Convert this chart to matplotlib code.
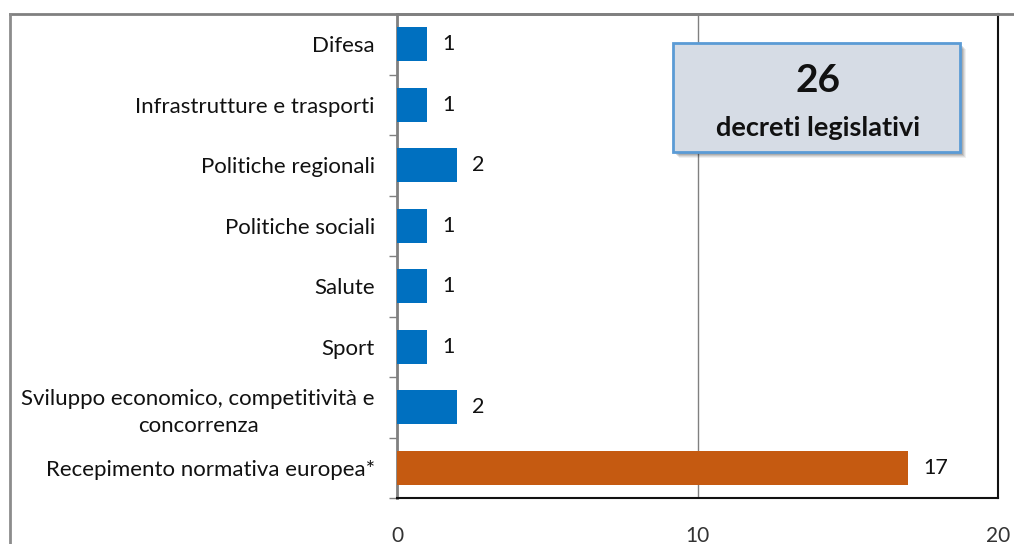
import numpy as np
import matplotlib
matplotlib.use("Agg")
import matplotlib.pyplot as plt
from matplotlib.patches import Rectangle
from matplotlib.lines import Line2D

plt.rcParams.update({"font.family": ["Lato", "DejaVu Sans"]})

categories = ["Difesa", "Infrastrutture e trasporti", "Politiche regionali",
              "Politiche sociali", "Salute", "Sport",
              "Sviluppo economico, competitività e\nconcorrenza",
              "Recepimento normativa europea*"]
values = [1, 1, 2, 1, 1, 1, 2, 17]
total_label = "26"
total_caption = "decreti legislativi"
xticks = [0, 10, 20]

W, H = 1014, 544
fig = plt.figure(figsize=(W / 100, H / 100), dpi=100)
ax = fig.add_axes([397 / W, 1 - 498 / H, (998 - 397) / W, (498 - 14) / H])

y = np.arange(len(categories))
colors = ["#0070C0"] * (len(categories) - 1) + ["#C55A11"]
bars = ax.barh(y, values, height=0.57, color=colors, zorder=3)
for b, v in zip(bars, values):
    ax.annotate(str(v), (b.get_width(), b.get_y() + b.get_height() / 2),
                xytext=(11, 0), textcoords="offset points", ha="left", va="center",
                fontsize=15.5, color="#111111")

ax.set_ylim(len(categories) - 0.5, -0.5)
ax.set_xlim(0, 20)
ax.set_yticks(y)
ax.set_yticklabels(categories, fontsize=16, color="#111111")
for t in ax.get_yticklabels():
    t.set_multialignment("center")
    t.set_linespacing(1.45)
ax.set_yticks(np.arange(-0.5, len(categories)), minor=True)
ax.tick_params(axis="y", which="major", length=0, pad=16)
ax.tick_params(axis="y", which="minor", length=6, width=1, color="#808080")
ax.set_xticks(xticks)
ax.tick_params(axis="x", length=0, pad=20, labelsize=15, labelcolor="#333333")
ax.xaxis.grid(True, color="#808080", lw=1, zorder=0)
ax.set_axisbelow(True)

ax.spines["left"].set_color("#808080"); ax.spines["left"].set_linewidth(2)
ax.spines["top"].set_color("#808080"); ax.spines["top"].set_linewidth(2)
for s in ("bottom", "right"):
    ax.spines[s].set_color("#111111"); ax.spines[s].set_linewidth(1.5)

# outer frame of the chart area
fig.add_artist(Line2D([10 / W, 1], [1 - 14 / H] * 2, color="#808080", lw=2))
fig.add_artist(Line2D([10 / W] * 2, [0, 1 - 14 / H], color="#8C8C8C", lw=2))

# summary box with soft shadow
bx, by, bw, bh = 673 / W, 1 - 152 / H, 287 / W, 109 / H
for i, a in enumerate([0.06, 0.08, 0.10, 0.12]):
    off = (6 - i) / W
    fig.add_artist(Rectangle((bx + off, by - off * W / H), bw, bh,
                             facecolor="#000000", alpha=a, edgecolor="none"))
fig.add_artist(Rectangle((bx, by), bw, bh, facecolor="#D6DCE5",
                         edgecolor="#5B9BD5", lw=2))
fig.text(818 / W, 1 - 81 / H, total_label, ha="center", va="center",
         fontsize=28, fontweight="bold", color="#111111")
fig.text(818 / W, 1 - 128 / H, total_caption, ha="center", va="center",
         fontsize=19.5, fontweight="bold", color="#111111")

fig.savefig("out.png", dpi=100)
